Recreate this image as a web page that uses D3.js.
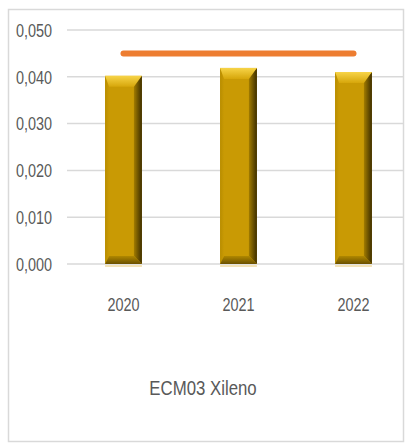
<!DOCTYPE html>
<html>
<head>
<meta charset="utf-8">
<script src="https://cdn.jsdelivr.net/npm/d3@7"></script>
<style>
  body { margin: 0; background: #fff; }
  svg { display: block; }
</style>
</head>
<body>
<div id="chart"></div>
<script>
const years = ["2020", "2021", "2022"]
const values = [0.0402, 0.0419, 0.0410]
const limit = 0.045
const yTicks = [0, 0.01, 0.02, 0.03, 0.04, 0.05]
const title = "ECM03 Xileno"

const width = 406
const height = 443
// Calibri isn't around, so squeeze Liberation Sans horizontally instead
const font = "'Liberation Sans', Arial, sans-serif"
const squeeze = 0.76

const svg = d3.select("#chart").append("svg")
  .attr("width", width)
  .attr("height", height)
  .attr("font-family", font)

// chart frame
svg.append("rect")
  .attr("x", 8.5).attr("y", 9.5)
  .attr("width", 395).attr("height", 432)
  .attr("fill", "#fff")
  .attr("stroke", "#d9d9d9")
  .attr("stroke-width", 1.5)

const x = d3.scaleBand()
  .domain(years)
  .range([66, 411])
  .paddingInner(0.68)
  .paddingOuter(0.34)

const y = d3.scaleLinear()
  .domain([0, 0.05])
  .range([264, 30])

const fmt = v => d3.format(".3f")(v).replace(".", ",")

// gridlines
svg.append("g")
  .selectAll("line")
  .data(yTicks)
  .join("line")
  .attr("x1", 67)
  .attr("x2", 403)
  .attr("y1", d => y(d))
  .attr("y2", d => y(d))
  .attr("stroke", "#d9d9d9")
  .attr("stroke-width", 1.5)

// y labels
svg.append("g")
  .selectAll("text")
  .data(yTicks)
  .join("text")
  .attr("transform", d => `translate(52,${y(d)}) scale(${squeeze},1)`)
  .attr("dy", "0.36em")
  .attr("text-anchor", "end")
  .attr("font-size", 19)
  .attr("fill", "#595959")
  .text(fmt)

// gradients for bevel look
const defs = svg.append("defs")
const gTop = defs.append("linearGradient").attr("id", "gTop")
  .attr("x1", 0).attr("y1", 0).attr("x2", 0).attr("y2", 1)
gTop.append("stop").attr("offset", 0).attr("stop-color", "#f7d448")
gTop.append("stop").attr("offset", 1).attr("stop-color", "#d6a60a")
const gRight = defs.append("linearGradient").attr("id", "gRight")
  .attr("x1", 0).attr("y1", 0).attr("x2", 1).attr("y2", 0)
gRight.append("stop").attr("offset", 0).attr("stop-color", "#a27c00")
gRight.append("stop").attr("offset", 1).attr("stop-color", "#3d2e00")
const gBottom = defs.append("linearGradient").attr("id", "gBottom")
  .attr("x1", 0).attr("y1", 0).attr("x2", 0).attr("y2", 1)
gBottom.append("stop").attr("offset", 0).attr("stop-color", "#b08800")
gBottom.append("stop").attr("offset", 1).attr("stop-color", "#6a5000")
const gLeft = defs.append("linearGradient").attr("id", "gLeft")
  .attr("x1", 0).attr("y1", 0).attr("x2", 1).attr("y2", 0)
gLeft.append("stop").attr("offset", 0).attr("stop-color", "#b88d00")
gLeft.append("stop").attr("offset", 1).attr("stop-color", "#c99a04")

const bars = svg.append("g")
  .selectAll("g")
  .data(years.map((yr, i) => ({ yr, v: values[i] })))
  .join("g")

const bev = 8
const pts = a => a.map(p => p.join(",")).join(" ")

// faint reflection under bars
bars.append("rect")
  .attr("x", d => x(d.yr))
  .attr("y", y(0) + 1)
  .attr("width", x.bandwidth())
  .attr("height", 2)
  .attr("fill", "#f3e3b8")

bars.append("rect")
  .attr("x", d => x(d.yr))
  .attr("y", d => y(d.v))
  .attr("width", x.bandwidth())
  .attr("height", d => y(0) - y(d.v))
  .attr("fill", "#c99a04")

bars.append("polygon")
  .attr("fill", "url(#gLeft)")
  .attr("points", d => {
    const x0 = x(d.yr), y0 = y(d.v), y1 = y(0)
    return pts([[x0, y0], [x0 + 4, y0 + bev], [x0 + 4, y1 - bev], [x0, y1]])
  })

bars.append("polygon")
  .attr("fill", "url(#gRight)")
  .attr("points", d => {
    const x1 = x(d.yr) + x.bandwidth(), y0 = y(d.v), y1 = y(0)
    return pts([[x1, y0], [x1, y1], [x1 - bev, y1 - bev], [x1 - bev, y0 + bev]])
  })

bars.append("polygon")
  .attr("fill", "url(#gBottom)")
  .attr("points", d => {
    const x0 = x(d.yr), x1 = x0 + x.bandwidth(), y1 = y(0)
    return pts([[x0, y1], [x0 + 4, y1 - bev], [x1 - bev, y1 - bev], [x1, y1]])
  })

bars.append("polygon")
  .attr("fill", "url(#gTop)")
  .attr("points", d => {
    const x0 = x(d.yr), x1 = x0 + x.bandwidth(), y0 = y(d.v)
    return pts([[x0, y0], [x1, y0], [x1 - bev, y0 + bev + 3], [x0 + 4, y0 + bev + 3]])
  })

// limit line
svg.append("line")
  .attr("x1", x("2020") + x.bandwidth() / 2)
  .attr("x2", x("2022") + x.bandwidth() / 2)
  .attr("y1", y(limit))
  .attr("y2", y(limit))
  .attr("stroke", "#ed7d31")
  .attr("stroke-width", 6)
  .attr("stroke-linecap", "round")

// x labels
svg.append("g")
  .selectAll("text")
  .data(years)
  .join("text")
  .attr("transform", d => `translate(${x(d) + x.bandwidth() / 2},311) scale(${squeeze},1)`)
  .attr("text-anchor", "middle")
  .attr("font-size", 19)
  .attr("fill", "#595959")
  .text(d => d)

svg.append("text")
  .attr("transform", `translate(203,395) scale(0.8,1)`)
  .attr("text-anchor", "middle")
  .attr("font-size", 21)
  .attr("fill", "#595959")
  .text(title)
</script>
</body>
</html>
